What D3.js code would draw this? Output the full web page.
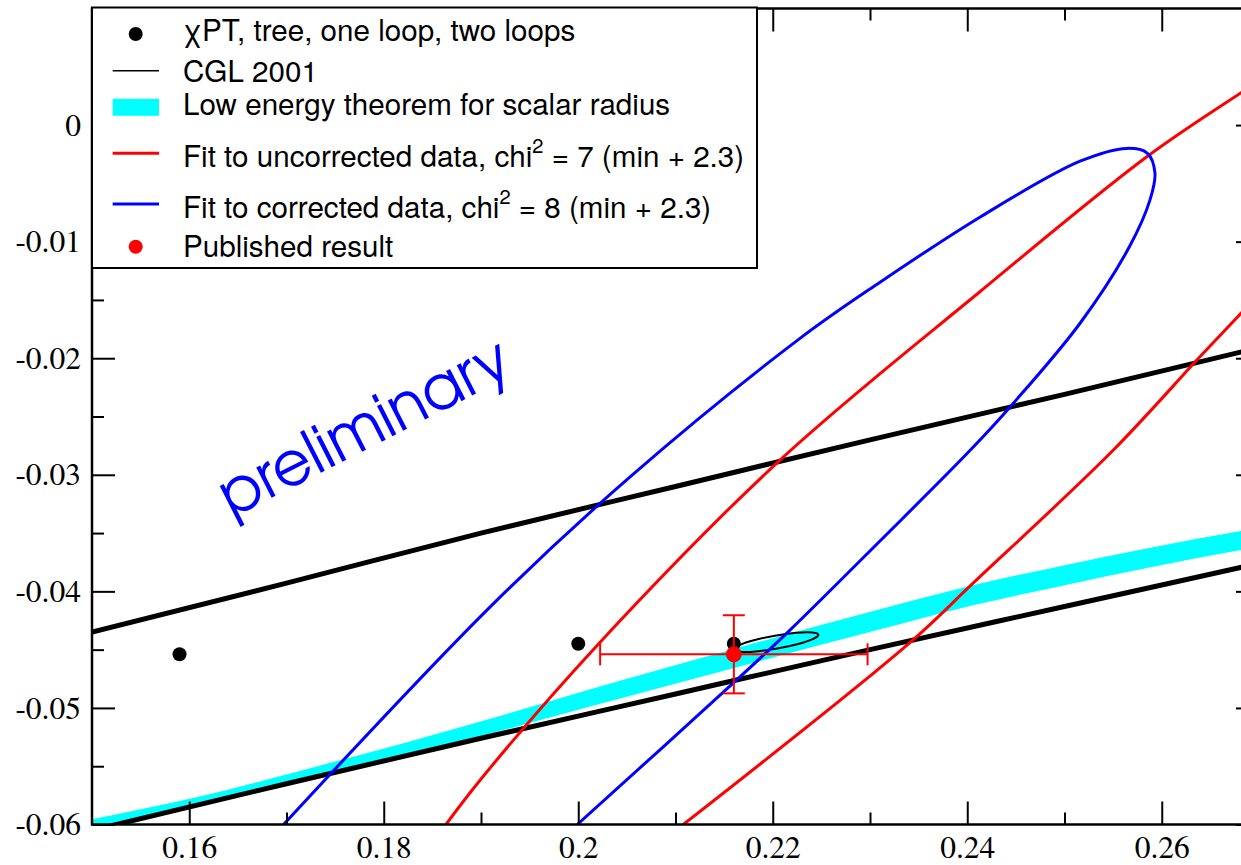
<!DOCTYPE html>
<html><head><meta charset="utf-8">
<script src="https://cdn.jsdelivr.net/npm/d3@7/dist/d3.min.js"></script>
<style>html,body{margin:0;padding:0;background:#fff;}svg{display:block;}
.serif{font-family:"Nimbus Roman","Nimbus Roman No9 L","TeX Gyre Termes","Liberation Serif","Times New Roman",Times,"DejaVu Serif",serif;}
.sans{font-family:"Nimbus Sans","Nimbus Sans L","TeX Gyre Heros","Liberation Sans",Arimo,Arial,Helvetica,sans-serif;}
</style>
</head><body>
<svg id="chart" width="1241" height="865"></svg>
<script>
// ---------------- data ----------------
const xDomain = [0.15, 0.27];
const yDomain = [-0.06, 0.01];
const xMajorTicks = [0.16, 0.18, 0.20, 0.22, 0.24, 0.26];
const xTickLabels = ["0.16", "0.18", "0.2", "0.22", "0.24", "0.26"];
const xMinorTicks = [0.17, 0.19, 0.21, 0.23, 0.25];
const yMajorTicks = [0, -0.01, -0.02, -0.03, -0.04, -0.05, -0.06];
const yTickLabels = ["0", "-0.01", "-0.02", "-0.03", "-0.04", "-0.05", "-0.06"];
const yMinorTicks = [0.005, -0.005, -0.015, -0.025, -0.035, -0.045, -0.055];

// chiPT points: tree, one loop, two loops
const chptX = [0.159, 0.200, 0.216];
const chptY = [-0.0454, -0.0445, -0.0445];

// CGL 2001 band edges (two thick lines)
const cglX = [0.15, 0.17, 0.19, 0.21, 0.23, 0.25, 0.27];
const cglUpper = [-0.0435, -0.0393, -0.0350, -0.0310, -0.0270, -0.0231, -0.0191];
const cglLower = [-0.0605, -0.0565, -0.0526, -0.0488, -0.0450, -0.0413, -0.0376];

// Low energy theorem for scalar radius (cyan band)
const bandX = [0.15, 0.16028, 0.17396, 0.19113, 0.20018, 0.21591, 0.23103, 0.24059, 0.24954, 0.26815, 0.27];
const bandTop = [-0.05955, -0.05775, -0.05483, -0.05088, -0.04865, -0.04496, -0.04153, -0.03947, -0.03784, -0.03483, -0.03457];
const bandBottom = [-0.06032, -0.05852, -0.05586, -0.05217, -0.05011, -0.04659, -0.04325, -0.04119, -0.03956, -0.03646, -0.03620];

// Fit to uncorrected data contour (red), two visible branches
const redUpperX = [0.1864, 0.1899, 0.2022, 0.2208, 0.2413, 0.2585, 0.2682, 0.2700];
const redUpperY = [-0.0600, -0.0562, -0.0444, -0.0287, -0.0143, -0.0027, 0.0028, 0.0038];
const redLowerX = [0.2700, 0.2682, 0.2639, 0.2550, 0.2406, 0.2341, 0.2108];
const redLowerY = [-0.0145, -0.0161, -0.0199, -0.0279, -0.0393, -0.0444, -0.0600];

// Fit to corrected data contour (blue)
const blueX = [0.1697, 0.1911, 0.2053, 0.2228, 0.2310, 0.2413, 0.2516, 0.2564, 0.2585, 0.2593, 0.2588, 0.2567, 0.2516, 0.2447, 0.2403, 0.2310, 0.2218, 0.2159, 0.1999];
const blueY = [-0.0600, -0.0412, -0.0302, -0.0183, -0.0135, -0.0079, -0.0031, -0.0020, -0.0024, -0.0041, -0.0064, -0.0104, -0.0170, -0.0239, -0.0279, -0.0357, -0.0433, -0.0479, -0.0600];

// small black ellipse
const ellX = [0.22469, 0.22417, 0.22262, 0.22045, 0.21826, 0.21662, 0.21597, 0.21650, 0.21805, 0.22022, 0.22241, 0.22405];
const ellY = [-0.04371, -0.04407, -0.04451, -0.04490, -0.04515, -0.04518, -0.04500, -0.04464, -0.04420, -0.04380, -0.04355, -0.04352];

// Published result with error bars
const pubX = [0.216];
const pubY = [-0.0454];
const pubXErr = [0.01375];
const pubYErr = [0.00335];

// legend
const legendLabels = ["χPT, tree, one loop, two loops", "CGL 2001", "Low energy theorem for scalar radius",
  "Fit to uncorrected data, chi", "Fit to corrected data, chi", "Published result"];
const legendSup = ["", "", "", "2", "2", ""];
const legendTail = ["", "", "", " = 7 (min + 2.3)", " = 8 (min + 2.3)", ""];
const annotationText = "preliminary";
const annotationAt = [0.1782, -0.0263];

// ---------------- drawing ----------------
const svg = d3.select("#chart");
const L = 92, R = 1259, T = 8.5, B = 824.5;
const x = d3.scaleLinear().domain(xDomain).range([L, R]);
const y = d3.scaleLinear().domain(yDomain).range([B, T]);

svg.append("rect").attr("width", 1241).attr("height", 865).attr("fill", "#fff");
svg.append("clipPath").attr("id", "clip").append("rect")
  .attr("x", L).attr("y", T).attr("width", R - L).attr("height", B - T);
const plot = svg.append("g").attr("clip-path", "url(#clip)");

const zip = (a, b) => a.map((v, i) => [v, b[i]]);

// cyan band
const band = bandX.map((v, i) => ({x: v, t: bandTop[i], b: bandBottom[i]}));
plot.append("path").datum(band)
  .attr("d", d3.area().x(d => x(d.x)).y0(d => y(d.b)).y1(d => y(d.t)).curve(d3.curveMonotoneX))
  .attr("fill", "#00ffff");

// CGL lines
[cglUpper, cglLower].forEach(arr => {
  plot.append("path").datum(zip(cglX, arr))
    .attr("d", d3.line().x(d => x(d[0])).y(d => y(d[1])).curve(d3.curveMonotoneX))
    .attr("fill", "none").attr("stroke", "#000").attr("stroke-width", 5);
});

// small ellipse
plot.append("path").datum(zip(ellX, ellY))
  .attr("d", d3.line().x(d => x(d[0])).y(d => y(d[1])).curve(d3.curveCardinalClosed))
  .attr("fill", "none").attr("stroke", "#000").attr("stroke-width", 2);

// red contour
[[redUpperX, redUpperY], [redLowerX, redLowerY]].forEach(([a, b]) => {
  plot.append("path").datum(zip(a, b))
    .attr("d", d3.line().x(d => x(d[0])).y(d => y(d[1])).curve(d3.curveCatmullRom))
    .attr("fill", "none").attr("stroke", "#ff0000").attr("stroke-width", 3);
});
// blue contour
plot.append("path").datum(zip(blueX, blueY))
  .attr("d", d3.line().x(d => x(d[0])).y(d => y(d[1])).curve(d3.curveCatmullRom))
  .attr("fill", "none").attr("stroke", "#0000ff").attr("stroke-width", 3);

// chiPT points
plot.selectAll("circle.chpt").data(zip(chptX, chptY)).enter().append("circle")
  .attr("class", "chpt").attr("cx", d => x(d[0])).attr("cy", d => y(d[1])).attr("r", 7).attr("fill", "#000");

// published result
const pub = pubX.map((v, i) => ({x: v, y: pubY[i], ex: pubXErr[i], ey: pubYErr[i]}));
const eb = plot.selectAll("g.pub").data(pub).enter().append("g").attr("stroke", "#ff0000").attr("stroke-width", 2);
eb.append("line").attr("x1", d => x(d.x - d.ex)).attr("x2", d => x(d.x + d.ex)).attr("y1", d => y(d.y)).attr("y2", d => y(d.y));
eb.append("line").attr("x1", d => x(d.x)).attr("x2", d => x(d.x)).attr("y1", d => y(d.y - d.ey)).attr("y2", d => y(d.y + d.ey));
const cap = 11;
eb.append("line").attr("x1", d => x(d.x - d.ex)).attr("x2", d => x(d.x - d.ex)).attr("y1", d => y(d.y) - cap).attr("y2", d => y(d.y) + cap);
eb.append("line").attr("x1", d => x(d.x + d.ex)).attr("x2", d => x(d.x + d.ex)).attr("y1", d => y(d.y) - cap).attr("y2", d => y(d.y) + cap);
eb.append("line").attr("y1", d => y(d.y + d.ey)).attr("y2", d => y(d.y + d.ey)).attr("x1", d => x(d.x) - cap).attr("x2", d => x(d.x) + cap);
eb.append("line").attr("y1", d => y(d.y - d.ey)).attr("y2", d => y(d.y - d.ey)).attr("x1", d => x(d.x) - cap).attr("x2", d => x(d.x) + cap);
plot.selectAll("circle.pub").data(pub).enter().append("circle")
  .attr("cx", d => x(d.x)).attr("cy", d => y(d.y)).attr("r", 8).attr("fill", "#ff0000");

// preliminary annotation
const ax = x(annotationAt[0]), ay = y(annotationAt[1]);
svg.append("text").attr("transform", `translate(${ax},${ay}) rotate(-27)`)
  .attr("text-anchor", "middle").attr("y", 16)
  .style("font-family", "'URW Gothic', 'URW Gothic L', 'TeX Gyre Adventor', Lato, 'DejaVu Sans', sans-serif")
  .style("font-weight", "400").style("font-size", "62px")
  .attr("fill", "#0000ff").attr("textLength", 318).attr("lengthAdjust", "spacingAndGlyphs")
  .text(annotationText);

// axes
const fmtX = v => xTickLabels[xMajorTicks.indexOf(v)];
const fmtY = v => yTickLabels[yMajorTicks.indexOf(v)];
function styleAxis(g) {
  g.attr("font-family", null).attr("font-size", null);
  g.select(".domain").remove();
  g.selectAll(".tick line").attr("stroke", "#000").attr("stroke-width", 2);
  g.selectAll(".tick text").attr("class", "serif").style("font-size", "31.5px").attr("fill", "#000");
}
svg.append("g").attr("transform", `translate(0,${B})`)
  .call(d3.axisBottom(x).tickValues(xMajorTicks).tickSize(-23).tickPadding(11).tickFormat(fmtX)).call(styleAxis);
svg.append("g").attr("transform", `translate(0,${B})`)
  .call(d3.axisBottom(x).tickValues(xMinorTicks).tickSize(-12).tickFormat("")).call(styleAxis);
svg.append("g").attr("transform", `translate(0,${T})`)
  .call(d3.axisTop(x).tickValues(xMajorTicks).tickSize(-23).tickFormat("")).call(styleAxis);
svg.append("g").attr("transform", `translate(0,${T})`)
  .call(d3.axisTop(x).tickValues(xMinorTicks).tickSize(-12).tickFormat("")).call(styleAxis);
svg.append("g").attr("transform", `translate(${L},0)`)
  .call(d3.axisLeft(y).tickValues(yMajorTicks).tickSize(-23).tickPadding(11).tickFormat(fmtY)).call(styleAxis);
svg.append("g").attr("transform", `translate(${L},0)`)
  .call(d3.axisLeft(y).tickValues(yMinorTicks).tickSize(-12).tickFormat("")).call(styleAxis);
svg.append("g").attr("transform", `translate(${R},0)`)
  .call(d3.axisRight(y).tickValues(yMajorTicks).tickSize(-23).tickFormat("")).call(styleAxis);
svg.append("g").attr("transform", `translate(${R},0)`)
  .call(d3.axisRight(y).tickValues(yMinorTicks).tickSize(-12).tickFormat("")).call(styleAxis);

// frame
svg.append("rect").attr("x", L).attr("y", T).attr("width", R - L).attr("height", B - T)
  .attr("fill", "none").attr("stroke", "#000").attr("stroke-width", 2.5);

// legend
const lg = svg.append("g");
lg.append("rect").attr("x", 92).attr("y", 7.5).attr("width", 665).attr("height", 260.5)
  .attr("fill", "#fff").attr("stroke", "#000").attr("stroke-width", 2);
const baselines = [41, 82, 115, 166.5, 217.5, 257];
const symY = [34, 70.7, 107.3, 153.3, 204, 246.7];
const sx0 = 112.7, sx1 = 159, scx = 135.7;
lg.append("circle").attr("cx", scx).attr("cy", symY[0]).attr("r", 7).attr("fill", "#000");
lg.append("line").attr("x1", sx0).attr("x2", sx1).attr("y1", symY[1]).attr("y2", symY[1]).attr("stroke", "#000").attr("stroke-width", 1.5);
lg.append("rect").attr("x", sx0).attr("y", symY[2] - 8.5).attr("width", sx1 - sx0).attr("height", 17).attr("fill", "#00ffff");
lg.append("line").attr("x1", sx0).attr("x2", sx1).attr("y1", symY[3]).attr("y2", symY[3]).attr("stroke", "#ff0000").attr("stroke-width", 3);
lg.append("line").attr("x1", sx0).attr("x2", sx1).attr("y1", symY[4]).attr("y2", symY[4]).attr("stroke", "#0000ff").attr("stroke-width", 3);
lg.append("circle").attr("cx", scx).attr("cy", symY[5]).attr("r", 7).attr("fill", "#ff0000");
legendLabels.forEach((lab, i) => {
  const t = lg.append("text").attr("class", "sans").attr("x", 183).attr("y", baselines[i])
    .style("font-size", "29.6px").attr("fill", "#000");
  t.append("tspan").text(lab);
  if (legendSup[i]) {
    t.append("tspan").attr("dy", -14).style("font-size", "20px").text(legendSup[i]);
    t.append("tspan").attr("dy", 14).text(legendTail[i]);
  }
});
</script>
</body></html>
